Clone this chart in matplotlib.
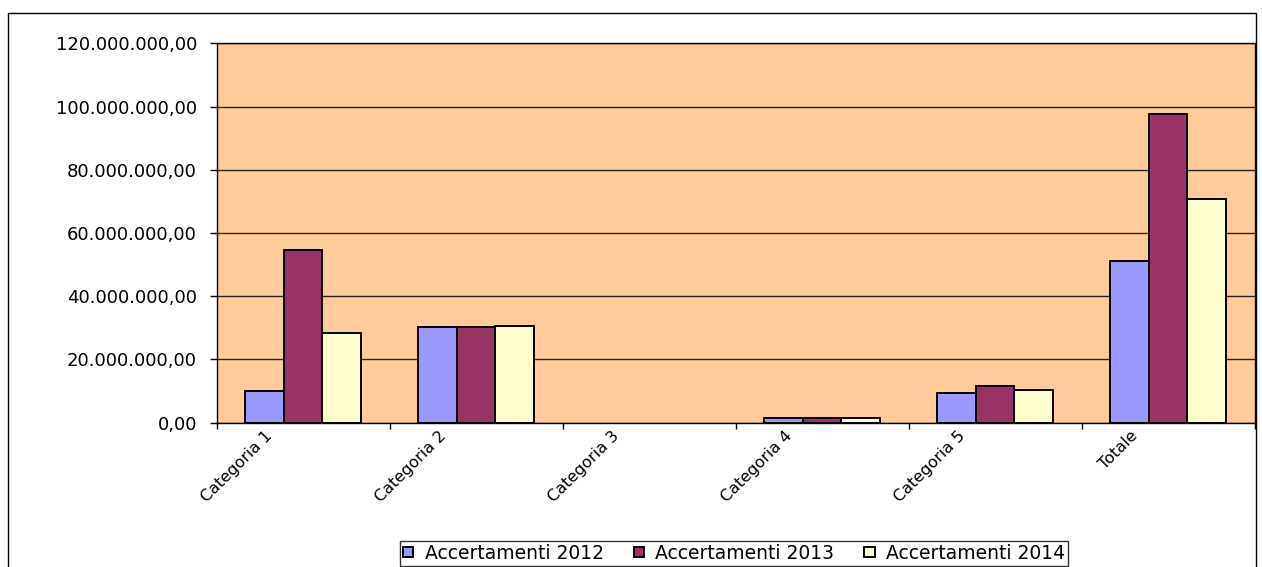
import numpy as np
import matplotlib.pyplot as plt
import matplotlib.transforms as mtransforms
from matplotlib.ticker import FixedLocator, FuncFormatter, NullFormatter
from matplotlib.patches import Rectangle

plt.rcParams['font.family'] = ['DejaVu Sans']

categories = ['Categoria 1', 'Categoria 2', 'Categoria 3', 'Categoria 4', 'Categoria 5', 'Totale']
series = ['Accertamenti 2012', 'Accertamenti 2013', 'Accertamenti 2014']
acc_2012 = [10.0e6, 30.2e6, 0, 1.4e6, 9.5e6, 51.1e6]
acc_2013 = [54.6e6, 30.2e6, 0, 1.4e6, 11.5e6, 97.7e6]
acc_2014 = [28.3e6, 30.6e6, 0, 1.4e6, 10.4e6, 70.7e6]
colors = ['#9999FF', '#993366', '#FFFFCC']


def it_format(v, pos):
    s = f"{v:,.2f}"
    return s.replace(',', 'X').replace('.', ',').replace('X', '.')


fig = plt.figure(figsize=(12.62, 5.67), dpi=100)
ax = fig.add_axes([0.1716, 0.2545, 0.8225, 0.6691])
ax.set_facecolor('#FFCC99')

x = np.arange(len(categories))
w = 1 / 4.5
for i, (vals, lab, col) in enumerate(zip([acc_2012, acc_2013, acc_2014], series, colors)):
    # excel draws nothing for zero values
    lws = [1.4 if v else 0 for v in vals]
    ax.bar(x + (i - 1) * w, vals, width=w, color=col, edgecolor='black',
           linewidth=lws, label=lab, zorder=3)

ax.set_xlim(-0.5, len(categories) - 0.5)
ax.set_ylim(0, 120e6)
ax.set_yticks(np.arange(0, 120e6 + 1, 20e6))
ax.yaxis.set_major_formatter(FuncFormatter(it_format))
ax.yaxis.grid(True, color='#222222', linewidth=1, zorder=1)
ax.tick_params(axis='y', length=5, width=1, labelsize=13, pad=9)

# tick marks on category boundaries, labels on centres
ax.xaxis.set_major_locator(FixedLocator(np.arange(-0.5, len(categories), 1.0)))
ax.xaxis.set_major_formatter(NullFormatter())
ax.xaxis.set_minor_locator(FixedLocator(x))
ax.set_xticklabels(categories, minor=True, rotation=45, ha='right',
                   rotation_mode='anchor', fontsize=11.5)
ax.tick_params(axis='x', which='major', length=4, width=1)
ax.tick_params(axis='x', which='minor', length=0, pad=4)
shift = mtransforms.ScaledTranslation(-38 / 100, 0, fig.dpi_scale_trans)
for lbl in ax.get_xticklabels(minor=True):
    lbl.set_transform(lbl.get_transform() + shift)

for sp in ax.spines.values():
    sp.set_color('black')
    sp.set_linewidth(1)

leg = fig.legend(loc='upper center', bbox_to_anchor=(734 / 1262, 1 - 541 / 567),
                 ncol=3, fontsize=13.5, frameon=True, fancybox=False,
                 edgecolor='black', handlelength=0.55, handleheight=0.4,
                 handletextpad=0.6, columnspacing=1.6, borderpad=0.15,
                 borderaxespad=0)
leg.get_frame().set_linewidth(1)

fig.patches.append(Rectangle((8 / 1262, -0.02), (1256 - 8) / 1262, 1.02 - 13 / 567,
                             transform=fig.transFigure, fill=False,
                             edgecolor='black', linewidth=1))

fig.savefig('out.png', dpi=100)
